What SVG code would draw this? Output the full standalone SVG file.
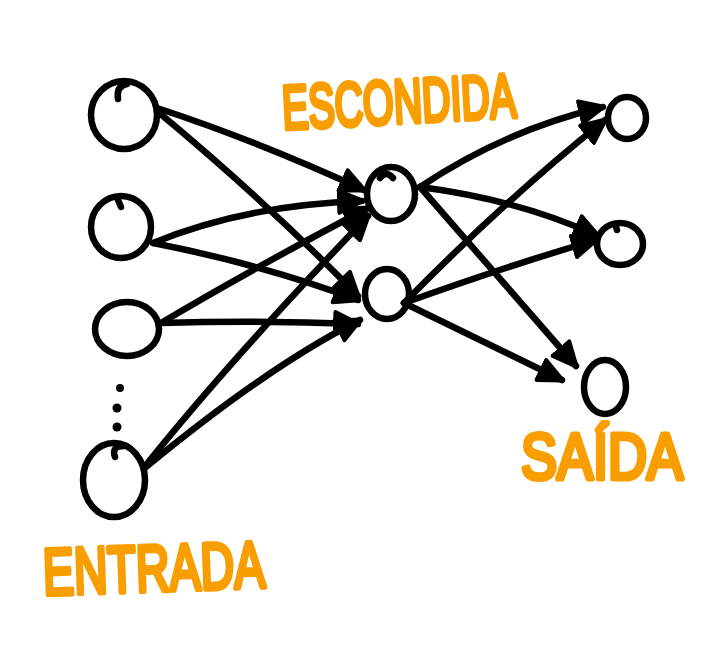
<svg xmlns="http://www.w3.org/2000/svg" width="723" height="652" viewBox="0 0 723 652">
<style>
.node{fill:none;stroke:#000;stroke-width:6.5;stroke-linecap:round;stroke-linejoin:round}
.edge{fill:none;stroke:#000;stroke-width:6.5;stroke-linecap:round;marker-end:url(#ah)}
.lbl{font-family:"Liberation Sans","DejaVu Sans",sans-serif;font-weight:normal;fill:#F99E00;stroke:#F99E00;stroke-width:5;stroke-linejoin:round;stroke-linecap:round}
</style>
<defs>
<marker id="ah" markerUnits="userSpaceOnUse" markerWidth="30" markerHeight="30" viewBox="0 0 30 30" refX="25" refY="15" orient="auto">
<path d="M2,4 L26,15 L2,26 Z" fill="#000" stroke="#000" stroke-width="4" stroke-linejoin="round"/>
</marker>
</defs>
<rect width="723" height="652" fill="#fff"/>
<g id="connectors">
<path class="edge" d="M157,108 Q255,140 364,190"/>
<path class="edge" d="M157,111 Q270,205 358,296"/>
<path class="edge" d="M153,243 Q245,205 362,201"/>
<path class="edge" d="M153,243 Q265,265 358,300"/>
<path class="edge" d="M161,323 Q250,270 368,208"/>
<path class="edge" d="M161,323 Q260,320 358,324"/>
<path class="edge" d="M146,465 Q230,360 368,216"/>
<path class="edge" d="M146,467 Q270,365 360,320"/>
<path class="edge" d="M420,187 Q505,130 603,107"/>
<path class="edge" d="M420,187 Q520,200 598,236"/>
<path class="edge" d="M420,187 Q510,290 576,366"/>
<path class="edge" d="M404,303 Q505,200 605,120"/>
<path class="edge" d="M404,303 Q510,265 596,240"/>
<path class="edge" d="M404,303 Q500,350 562,380"/>
</g>
<g id="in1"><ellipse class="node" cx="124" cy="115" rx="33" ry="34"/><path class="node" d="M118,99 Q116,86 127,84"/></g>
<g id="in2"><ellipse class="node" cx="121" cy="227" rx="30" ry="31"/><path class="node" d="M118,200 L121,207"/></g>
<g id="in3"><ellipse class="node" cx="127" cy="329" rx="32" ry="27"/></g>
<g id="dots"><circle cx="120" cy="388" r="4"/><circle cx="117" cy="408" r="4.5"/><circle cx="117" cy="427" r="4.5"/></g>
<g id="in4"><ellipse class="node" cx="114" cy="480" rx="31" ry="37"/><path class="node" d="M115,457 Q111,446 124,446"/></g>
<g id="h1"><ellipse class="node" cx="391" cy="194" rx="24" ry="27"/><path class="node" d="M380,178 Q386,170 393,178"/></g>
<g id="h2"><ellipse class="node" cx="387" cy="294" rx="22" ry="25"/></g>
<g id="o1"><ellipse class="node" cx="627" cy="118" rx="19" ry="21"/></g>
<g id="o2"><ellipse class="node" cx="620" cy="244" rx="23" ry="21"/><path class="node" d="M615,224 L617,230"/></g>
<g id="o3"><ellipse class="node" cx="605" cy="387" rx="21" ry="27"/></g>
<g id="labels">
<text class="lbl" x="282" y="123" font-size="62" textLength="234" lengthAdjust="spacingAndGlyphs" transform="rotate(-3 400 102)">ESCONDIDA</text>
<text class="lbl" x="521" y="479" font-size="64" textLength="162" lengthAdjust="spacingAndGlyphs">SAÍDA</text>
<text class="lbl" x="43" y="591" font-size="66" textLength="222" lengthAdjust="spacingAndGlyphs" transform="rotate(-2 155 570)">ENTRADA</text>
</g>
</svg>
